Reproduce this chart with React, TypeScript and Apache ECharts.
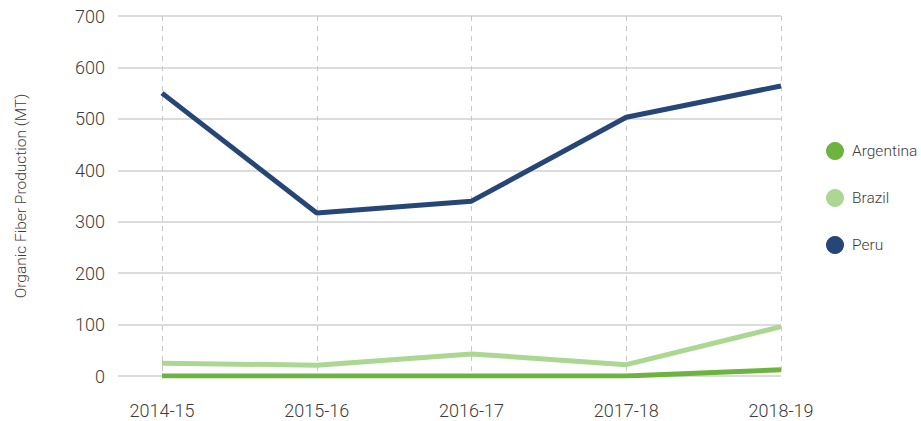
import React, { useEffect, useRef } from "react";
import * as echarts from "echarts";

const categories = ["2014-15", "2015-16", "2016-17", "2017-18", "2018-19"];
const argentina = [0, 0, 0, 0, 12];
const brazil = [25, 21, 43, 22, 96];
const peru = [550, 317, 340, 503, 564];
const seriesNames = ["Argentina", "Brazil", "Peru"];
const colors = ["#6db33f", "#acd793", "#254677"];

const FONT = "Roboto, 'DejaVu Sans', sans-serif";
const TEXT = "#3c3c3c";

export default function App() {
  const ref = useRef<HTMLDivElement>(null);
  useEffect(() => {
    if (!ref.current) return;
    const chart = echarts.init(ref.current, null, { renderer: "svg" });
    const dataSets = [argentina, brazil, peru];
    chart.setOption({
      animation: false,
      color: colors,
      textStyle: { fontFamily: FONT },
      legend: {
        orient: "vertical",
        left: 826,
        top: 142,
        icon: "circle",
        itemWidth: 18,
        itemHeight: 18,
        itemGap: 29,
        padding: 0,
        data: seriesNames,
        textStyle: { fontFamily: FONT, fontSize: 15.5, color: TEXT, fontWeight: 300, padding: [0, 0, 0, 3] },
      },
      grid: [
        { left: 118, right: 140, top: 16, bottom: 45, outerBoundsMode: "none" },
        { left: 162, right: 140, top: 16, bottom: 45, outerBoundsMode: "none" },
      ],
      xAxis: [
        { type: "value", gridIndex: 0, show: false, min: 0, max: 1 },
        {
          type: "category",
          gridIndex: 1,
          data: categories,
          boundaryGap: false,
          axisLine: { show: false },
          axisTick: { show: false },
          axisLabel: { color: TEXT, fontSize: 18, fontWeight: 300, margin: 25, fontFamily: FONT },
          splitLine: { show: true, lineStyle: { type: [5, 5], color: "#c8c8c8", width: 1 } },
        },
      ],
      yAxis: [
        {
          type: "value",
          gridIndex: 0,
          min: 0,
          max: 700,
          interval: 100,
          name: "Organic Fiber Production (MT)",
          nameLocation: "middle",
          nameGap: 89,
          nameTextStyle: { color: TEXT, fontSize: 15.5, fontWeight: 300, fontFamily: FONT },
          axisLine: { show: false },
          axisTick: { show: false },
          axisLabel: { color: TEXT, fontSize: 18, fontWeight: 300, margin: 13, fontFamily: FONT },
          splitLine: { lineStyle: { color: "#d0d0d0", width: 1.5 } },
        },
        {
          type: "value",
          gridIndex: 1,
          min: 0,
          max: 700,
          interval: 100,
          show: false,
          splitLine: { show: false },
        },
      ],
      series: seriesNames.map((name, i) => ({
        name,
        type: "line",
        xAxisIndex: 1,
        yAxisIndex: 1,
        data: dataSets[i],
        symbol: "none",
        lineStyle: { width: 5, color: colors[i] },
        itemStyle: { color: colors[i] },
      })),
    });
    return () => chart.dispose();
  }, []);
  return <div ref={ref} style={{ position: "absolute", left: 0, top: 0, width: 921, height: 421 }} />;
}
